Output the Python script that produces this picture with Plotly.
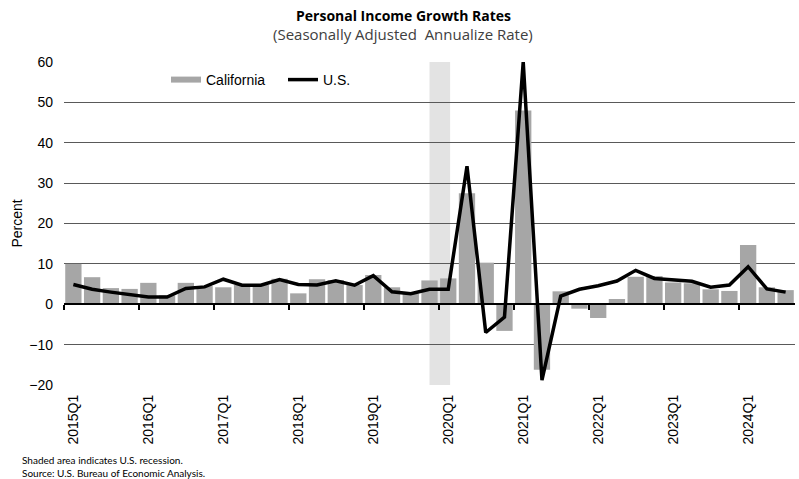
import plotly.graph_objects as go

quarters = [f"{y}Q{q}" for y in range(2015, 2025) for q in range(1, 5)][:39]

california = [10.0, 6.7, 4.0, 3.8, 5.3, 2.2, 5.3, 4.5,
              4.2, 4.8, 4.8, 6.3, 2.7, 6.2, 6.0, 4.75,
              7.25, 4.2, 2.7, 5.9, 6.4, 27.5, 10.3, -6.6,
              48.0, -16.2, 3.2, -1.1, -3.4, 1.3, 6.8, 7.0,
              5.4, 5.2, 3.7, 3.3, 14.7, 4.2, 3.5]

us = [4.9, 3.7, 3.0, 2.3, 1.8, 1.8, 3.9, 4.3,
      6.2, 4.7, 4.7, 6.1, 4.9, 4.75, 5.8, 4.7,
      7.1, 3.1, 2.6, 3.7, 3.7, 34.2, -7.0, -3.2,
      60.0, -18.8, 2.0, 3.7, 4.6, 5.75, 8.4, 6.4,
      6.0, 5.7, 4.2, 4.75, 9.3, 3.8, 3.0]

tick_labels = quarters[::4]
recession = ("2019Q4", "2020Q1")

idx = list(range(len(quarters)))
tick_pos = idx[::4]
boundary_pos = [i - 0.5 for i in tick_pos]

BAR = "#A6A6A6"
FONT = "Liberation Sans, Arial, sans-serif"

L, R, T, B = 64, 4, 62, 94
PW, PH = 799 - L - R, 479 - T - B


def px_x(x):
    return (x - L) / PW


def px_y(y):
    return (T + PH - y) / PH


fig = go.Figure()
fig.add_trace(go.Bar(x=idx, y=california, marker_color=BAR, marker_line_width=0,
                     name="California", showlegend=False))
# legend proxy for bars (wide rectangular swatch)
fig.add_trace(go.Scatter(x=[None], y=[None], mode="lines", name="California",
                         line=dict(color=BAR, width=6)))
fig.add_trace(go.Scatter(x=idx, y=us, mode="lines", name="U.S.", xaxis="x2",
                         line=dict(color="black", width=3.5)))

r0 = quarters.index(recession[0])
r1 = quarters.index(recession[1])
fig.add_shape(type="rect", xref="x", yref="y", x0=r0, x1=r1 + 0.1, y0=-20, y1=60,
              fillcolor="#E3E3E3", line_width=0, layer="below")

fig.update_layout(
    width=799, height=479,
    margin=dict(l=L, r=R, t=T, b=B),
    paper_bgcolor="white", plot_bgcolor="white",
    bargap=0.13,
    font=dict(family=FONT, color="black", size=14),
    xaxis=dict(range=[-0.5, 38.5], tickmode="array", tickvals=tick_pos, ticktext=tick_labels,
               tickangle=-90, showgrid=False, showline=False, ticks="", zeroline=False,
               tickfont=dict(size=14), ticklabelstandoff=6, automargin=False),
    xaxis2=dict(range=[-0.5, 38.5], overlaying="x", anchor="free", position=0.25,
                tickmode="array", tickvals=boundary_pos, showticklabels=False,
                ticks="outside", ticklen=5, tickwidth=1.5, tickcolor="black",
                showline=True, linecolor="black", linewidth=1.5, showgrid=False,
                zeroline=False, automargin=False),
    yaxis=dict(range=[-20, 60], dtick=10, showgrid=True, gridcolor="#595959", gridwidth=1,
               zeroline=False, showline=False, ticks="", tickfont=dict(size=14),
               ticklabelstandoff=10, automargin=False,
               title=dict(text="Percent", font=dict(size=14), standoff=3)),
    legend=dict(orientation="h", x=px_x(166), xanchor="left", y=px_y(80), yanchor="middle",
                bgcolor="rgba(0,0,0,0)", font=dict(size=14),
                entrywidth=72, entrywidthmode="pixels", tracegroupgap=0),
    annotations=[
        dict(text="<b>Personal Income Growth Rates</b>", xref="paper", yref="paper",
             x=px_x(403), y=px_y(15), xanchor="center", yanchor="middle", showarrow=False,
             font=dict(family="Open Sans, sans-serif", size=14, color="black")),
        dict(text="(Seasonally Adjusted  Annualize Rate)", xref="paper", yref="paper",
             x=px_x(403), y=px_y(34), xanchor="center", yanchor="middle", showarrow=False,
             font=dict(family="Open Sans, sans-serif", size=15, color="#404040")),
        dict(text="Shaded area indicates U.S. recession.<br>Source: U.S. Bureau of Economic Analysis.",
             xref="paper", yref="paper", x=px_x(20), y=px_y(466),
             xanchor="left", yanchor="middle", align="left", showarrow=False,
             font=dict(family="Lato, sans-serif", size=10, color="black")),
    ],
)

fig.write_html("out.html", config={"displayModeBar": False},
               post_script="document.body.style.margin='0';document.body.style.overflow='hidden';")
